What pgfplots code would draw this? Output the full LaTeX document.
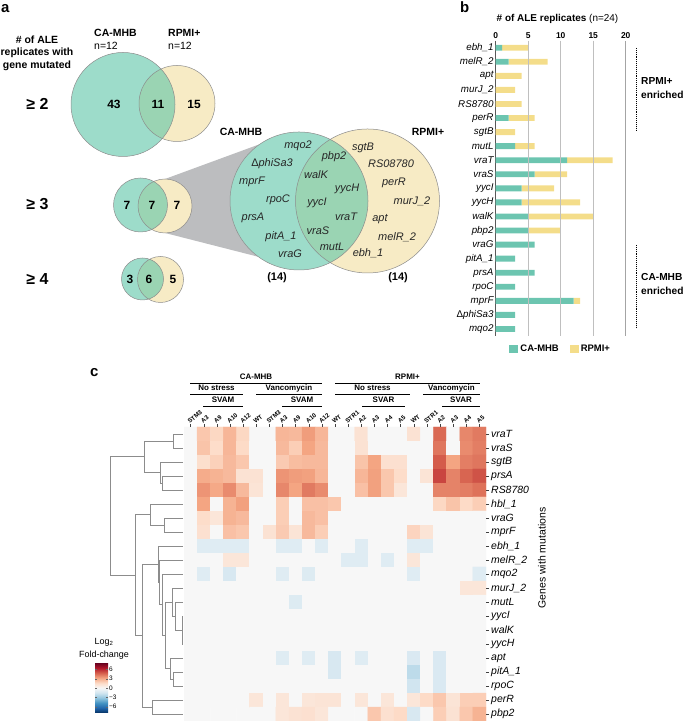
\documentclass[border=0pt]{standalone}
\usepackage{fontspec}
\setmainfont{Liberation Sans}
\usepackage{pgfplots}
\pgfplotsset{compat=1.18}
\pgfplotsset{/pgf/number format/assume math mode=true}
\newcommand\fs[2]{\fontsize{#1}{#2}\selectfont}
\definecolor{tealb}{RGB}{108,197,176}
\definecolor{yelb}{RGB}{244,221,138}
\definecolor{vteal}{RGB}{92,197,167}
\definecolor{vyel}{RGB}{247,235,197}
\definecolor{funnel}{RGB}{188,189,191}
\definecolor{vline}{RGB}{140,140,140}
\pgfplotsset{colormap={rdbu}{rgb255=(5,48,97) rgb255=(33,102,172) rgb255=(67,147,195) rgb255=(146,197,222) rgb255=(209,229,240) rgb255=(247,247,247) rgb255=(253,219,199) rgb255=(244,165,130) rgb255=(214,96,77) rgb255=(178,24,43) rgb255=(103,0,31)}}
\newcommand\venn[6]{%
 \fill[white] (axis cs:#1,#2) circle[radius=#3bp];
 \fill[vyel] (axis cs:#4,#5) circle[radius=#6bp];
 \fill[vteal, fill opacity=0.6] (axis cs:#1,#2) circle[radius=#3bp];
 \draw[vline, line width=0.5bp] (axis cs:#1,#2) circle[radius=#3bp];
 \draw[vline, line width=0.5bp] (axis cs:#4,#5) circle[radius=#6bp];}
\begin{document}
\begin{tikzpicture}[x=1bp,y=1bp]
\useasboundingbox (0,0) rectangle (685,721);
% ---------------- canvas: venn + dendrogram
\begin{axis}[at={(0bp,0bp)}, anchor=south west, scale only axis, width=685bp, height=721bp,
  xmin=0, xmax=685, ymin=0, ymax=721, hide axis, clip=false,
  dendro/.style={draw=black!45, line width=0.6bp, no marks, forget plot}]
\fill[funnel] (axis cs:165,542) -- (axis cs:263,578) -- (axis cs:299,520) -- (axis cs:263,463) -- (axis cs:165,488) -- cycle;
\venn{123}{616.5}{52}{177}{617.5}{38}
\venn{140.5}{516}{27}{165}{515}{27}
\venn{142.5}{442}{21}{160.5}{441.5}{23}
\venn{299}{520}{69}{367.5}{520}{72}
% dendrogram
\addplot[dendro] coordinates {(183,287) (173,287) (173,273) (183,273)};
\addplot[dendro] coordinates {(183,245) (162,245) (162,231) (183,231)};
\addplot[dendro] coordinates {(183,259) (160,259) (160,238) (162,238)};
\addplot[dendro] coordinates {(173,280) (144,280) (144,248.5) (160,248.5)};
\addplot[dendro] coordinates {(183,203) (164,203) (164,189) (183,189)};
\addplot[dendro] coordinates {(183,217) (150,217) (150,196) (164,196)};
\addplot[dendro] coordinates {(183,105) (182.3,105) (182.3,77) (183,77)};
\addplot[dendro] coordinates {(182.3,91) (183,91)};
\addplot[dendro] coordinates {(183,119) (175,119) (175,91) (182.3,91)};
\addplot[dendro] coordinates {(183,133) (172.3,133) (172.3,105) (175,105)};
\addplot[dendro] coordinates {(183,49) (173.3,49) (173.3,35) (183,35)};
\addplot[dendro] coordinates {(183,63) (170,63) (170,42) (173.3,42)};
\addplot[dendro] coordinates {(172.3,119) (165,119) (165,52.5) (170,52.5)};
\addplot[dendro] coordinates {(183,147) (162.3,147) (162.3,85.75) (165,85.75)};
\addplot[dendro] coordinates {(183,161) (159.3,161) (159.3,116.4) (162.3,116.4)};
\addplot[dendro] coordinates {(183,175) (158.3,175) (158.3,138.7) (159.3,138.7)};
\addplot[dendro] coordinates {(183,21) (152,21) (152,7) (183,7)};
\addplot[dendro] coordinates {(158.3,156.85) (142.7,156.85) (142.7,14) (152,14)};
\addplot[dendro] coordinates {(150,206.5) (135.7,206.5) (135.7,85.4) (142.7,85.4)};
\addplot[dendro] coordinates {(144,264.25) (110,264.25) (110,146) (135.7,146)};
\end{axis}
% ---------------- panel a texts
\node[font=\bfseries\fs{15}{15}, anchor=base west, inner sep=0] at (1,708) {a};
\node[font=\bfseries\fs{15}{15}, anchor=base west, inner sep=0] at (460,708) {b};
\node[font=\bfseries\fs{15}{15}, anchor=base west, inner sep=0] at (90,344) {c};
\node[font=\bfseries\fs{10.5}{12.7}, align=center, inner sep=0] at (37,667.7) {\# of ALE\\replicates with\\gene mutated};
\node[font=\bfseries\fs{10.5}{11}, anchor=west, inner sep=0] at (94,688) {CA-MHB};
\node[font=\fs{10.5}{11}, anchor=west, inner sep=0] at (94,675) {n=12};
\node[font=\bfseries\fs{10.5}{11}, anchor=west, inner sep=0] at (168,688) {RPMI+};
\node[font=\fs{10.5}{11}, anchor=west, inner sep=0] at (168,675) {n=12};
\foreach \t/\y in {2/617,3/517,4/442}{\node[font=\bfseries\fs{16}{16}, inner sep=0] at (37.5,\y) {≥ \t};}
\begin{scope}[every node/.style={font=\bfseries\fs{12}{12}, inner sep=0}]
\node at (114,617) {43}; \node at (158,617) {11}; \node at (194,617) {15};
\node at (127,516) {7}; \node at (152,516) {7}; \node at (177,516) {7};
\node at (130,442) {3}; \node at (149,442) {6}; \node at (173,442) {5};
\end{scope}
\node[font=\bfseries\fs{10.5}{11}, inner sep=0] at (241,589) {CA-MHB};
\node[font=\bfseries\fs{10.5}{11}, inner sep=0] at (428,589) {RPMI+};
\node[font=\bfseries\fs{11}{11}, inner sep=0] at (277,443) {(14)};
\node[font=\bfseries\fs{11}{11}, inner sep=0] at (398,443) {(14)};
\begin{scope}[every node/.style={font=\itshape\fs{11}{11}, inner sep=0, text=black!85}]
\node at (298,575) {mqo2}; \node at (272,557) {{\upshape Δ}phiSa3}; \node at (252,539) {mprF};
\node at (278,521) {rpoC}; \node at (253,503) {prsA}; \node at (281,484) {pitA\_1}; \node at (290,467) {vraG};
\node at (334,564) {pbp2}; \node at (316,546) {walK}; \node at (347,532) {yycH}; \node at (317,518) {yycI};
\node at (346,504) {vraT}; \node at (318,490) {vraS}; \node at (332,474) {mutL};
\node at (363,573) {sgtB}; \node at (391,557) {RS08780}; \node at (394,538) {perR}; \node at (412,520) {murJ\_2};
\node at (380,502) {apt}; \node at (397,484) {melR\_2}; \node at (368,468) {ebh\_1};
\end{scope}
% ---------------- panel b
\node[inner sep=0] at (557.5,702) {\bfseries\fs{10}{10}\# of ALE replicates \mdseries(n=24)};
\begin{axis}[at={(495.7bp,385bp)}, anchor=south west, scale only axis, width=130bp, height=295.3bp,
  xbar stacked, bar width=0.42, xmin=0, xmax=20, ymin=-0.5, ymax=20.5, y dir=reverse,
  axis x line*=top, axis y line*=left, x axis line style={draw=none},
  y axis line style={draw=black!65, line width=0.8bp},
  xtick={0,5,10,15,20}, ytick={0,...,20},
  yticklabels={ebh\_1, melR\_2, apt, murJ\_2, RS8780, perR, sgtB, mutL, vraT, vraS, yycI, yycH, walK, pbp2, vraG, pitA\_1, prsA, rpoC, mprF, {\upshape Δ}phiSa3, mqo2},
  major tick length=0pt, tick style={draw=none},
  xticklabel style={font=\bfseries\fs{8.5}{9}, inner sep=1.5bp},
  yticklabel style={font=\itshape\fs{9.8}{10}, inner sep=2bp},
  legend style={at={(0.5,-0.015)}, anchor=north, draw=none, fill=none, legend columns=2,
    font=\bfseries\fs{9.5}{10}, /tikz/every even column/.append style={column sep=9bp}},
  legend image code/.code={\fill[#1] (0bp,-4bp) rectangle (9bp,4bp);}]
\draw[black!25, line width=0.9bp] (axis cs:5,-0.5) -- (axis cs:5,20.5);
\draw[black!25, line width=0.9bp] (axis cs:10,-0.5) -- (axis cs:10,20.5);
\draw[black!25, line width=0.9bp] (axis cs:15,-0.5) -- (axis cs:15,20.5);
\draw[black!55, line width=0.9bp] (axis cs:20,-0.5) -- (axis cs:20,20.5);
\addplot[fill=tealb, draw=none] coordinates {(1,0) (2,1) (0,2) (0,3) (0,4) (2,5) (0,6) (3,7) (11,8) (6,9) (4,10) (4,11) (5,12) (5,13) (6,14) (3,15) (6,16) (3,17) (12,18) (3,19) (3,20)};
\addplot[fill=yelb, draw=none] coordinates {(4,0) (6,1) (4,2) (3,3) (4,4) (4,5) (3,6) (3,7) (7,8) (5,9) (5,10) (9,11) (10,12) (5,13) (0,14) (0,15) (0,16) (0,17) (1,18) (0,19) (0,20)};
\legend{CA-MHB, RPMI+}
\end{axis}
\draw[densely dotted, line width=0.9bp] (636,673) -- (636,591);
\draw[densely dotted, line width=0.9bp] (636,476) -- (636,394);
\node[font=\bfseries\fs{10.2}{14}, align=left, anchor=west, inner sep=0] at (641,633) {RPMI+\\enriched};
\node[font=\bfseries\fs{10.2}{14}, align=left, anchor=west, inner sep=0] at (641,437) {CA-MHB\\enriched};
% ---------------- panel c header
\begin{scope}[every node/.style={font=\bfseries\fs{8}{8}, inner sep=0, anchor=base}]
\draw[line width=0.6bp] (190,338) -- (322,338); \node at (256,341) {CA-MHB};
\draw[line width=0.6bp] (335,338) -- (480,338); \node at (407.5,341) {RPMI+};
\draw[line width=0.6bp] (190,327) -- (243,327); \node at (216.5,330) {No stress};
\draw[line width=0.6bp] (256,327) -- (322,327); \node at (289,330) {Vancomycin};
\draw[line width=0.6bp] (335,327) -- (410,327); \node at (372.5,330) {No stress};
\draw[line width=0.6bp] (423,327) -- (480,327); \node at (451.5,330) {Vancomycin};
\draw[line width=0.6bp] (203,315) -- (243,315); \node at (223,318) {SVAM};
\draw[line width=0.6bp] (282,315) -- (322,315); \node at (302,318) {SVAM};
\draw[line width=0.6bp] (362,315) -- (405,315); \node at (383.5,318) {SVAR};
\draw[line width=0.6bp] (442,315) -- (480,315); \node at (461,318) {SVAR};
\end{scope}
% ---------------- heatmap
\begin{axis}[at={(184bp,0bp)}, anchor=south west, scale only axis, width=302bp, height=294bp,
  xmin=-0.5, xmax=22.5, ymin=-0.5, ymax=20.5, y dir=reverse,
  colormap name=rdbu, point meta min=-8, point meta max=8,
  axis line style={draw=none},
  xtick={0,...,22}, ytick={0,...,20},
  xtick pos=right, xticklabel pos=right, ytick pos=right, yticklabel pos=right,
  tick align=outside, major tick length=3bp, tick style={black!75, line width=0.4bp},
  xticklabels={STM3,A3,A9,A10,A12,WT,STM3,A3,A9,A10,A12,WT,STR1,A2,A3,A4,A5,WT,STR1,A2,A3,A4,A5},
  xticklabel style={font=\bfseries\fs{6.2}{6.5}, rotate=40, anchor=south west, inner sep=0.3bp, xshift=-0.8bp},
  yticklabels={vraT, vraS, sgtB, prsA, RS8780, hbl\_1, vraG, mprF, ebh\_1, melR\_2, mqo2, murJ\_2, mutL, yycI, walK, yycH, apt, pitA\_1, rpoC, perR, pbp2},
  yticklabel style={font=\itshape\fs{10.5}{11}, inner sep=2bp}]
\addplot[matrix plot, mesh/cols=23, mesh/rows=21, point meta=explicit, draw=none]
 table[row sep=\\, x expr={mod(\coordindex,23)}, y expr={floor((\coordindex+0.5)/23)}, meta=v] {
v\\
0\\2.2\\1.7\\2.7\\1.7\\0\\0\\2.7\\2.6\\3.4\\2.7\\0\\0\\1.2\\0\\0\\0\\1.2\\0\\4.6\\0\\3.9\\4.2\\
0\\2.3\\1.5\\2.7\\1.6\\0\\0\\2.6\\2.0\\3.2\\2.6\\0\\0\\1.2\\0\\0\\0\\0\\0\\4.3\\0\\3.8\\4.1\\
0\\1.4\\1.9\\2.6\\2.2\\0\\0\\2.1\\2.5\\2.6\\2.6\\0\\0\\2.3\\3.2\\1.3\\1.3\\0\\0\\4.9\\3.2\\4.1\\4.3\\
0\\3.0\\2.8\\2.6\\1.2\\1.2\\0\\3.6\\3.4\\3.3\\2.7\\0\\0\\2.7\\3.3\\2.2\\1.5\\0\\1.1\\5.4\\4.0\\4.7\\5.1\\
0\\3.6\\3.1\\3.8\\2.6\\1.1\\0\\3.9\\3.2\\4.2\\3.8\\0\\0\\2.4\\3.3\\2.2\\1.0\\0\\0\\4.0\\4.0\\4.1\\4.4\\
0\\3.2\\0\\2.8\\3.3\\0\\0\\2.0\\0\\2.4\\2.4\\2.2\\0\\0\\0\\0\\0\\0\\0\\1.7\\2.3\\1.6\\2.0\\
0\\1.5\\1.0\\2.8\\2.6\\0\\0\\2.0\\0\\2.6\\2.4\\0\\0\\0\\0\\0\\0\\0\\0\\0\\0\\0\\0\\
0\\1.3\\0\\2.4\\2.2\\0\\1.2\\2.1\\1.1\\2.6\\2.0\\0\\0\\0\\0\\0\\0\\1.8\\1.1\\0\\0\\0\\0\\
0\\-1\\-1\\-1\\-1\\0\\0\\-1\\-1\\0\\-1\\0\\0\\-1\\0\\0\\0\\-1\\-1\\0\\0\\0\\0\\
0\\0\\0\\1.0\\1.0\\0\\0\\0\\0\\0\\0\\0\\-1\\-1\\0\\-1\\0\\1.0\\0\\0\\0\\0\\0\\
0\\-1\\0\\-1.3\\0\\0\\0\\-1\\0\\-1.1\\0\\0\\0\\0\\0\\0\\0\\-1\\0\\0\\0\\0\\-1\\
0\\0\\0\\0\\0\\0\\0\\0\\0\\0\\0\\0\\0\\0\\0\\0\\0\\0\\0\\0\\0\\1.0\\1.0\\
0\\0\\0\\0\\0\\0\\0\\0\\-1.1\\0\\0\\0\\0\\0\\0\\0\\0\\0\\0\\0\\0\\0\\0\\
0\\0\\0\\0\\0\\0\\0\\0\\0\\0\\0\\0\\0\\0\\0\\0\\0\\0\\0\\0\\0\\0\\0\\
0\\0\\0\\0\\0\\0\\0\\0\\0\\0\\0\\0\\0\\0\\0\\0\\0\\0\\0\\0\\0\\0\\0\\
0\\0\\0\\0\\0\\0\\0\\0\\0\\0\\0\\0\\0\\0\\0\\0\\0\\0\\0\\0\\0\\0\\0\\
0\\0\\0\\0\\0\\0\\0\\-1\\0\\-1\\0\\-1.3\\0\\-1\\0\\0\\0\\-1.2\\0\\-1.2\\0\\0\\0\\
0\\0\\0\\0\\0\\0\\0\\0\\0\\0\\0\\-1.3\\0\\0\\0\\0\\0\\-2.1\\0\\-1.2\\0\\0\\0\\
0\\0\\0\\0\\0\\0\\0\\0\\0\\0\\0\\0\\0\\0\\0\\0\\0\\-1.6\\0\\-1.2\\0\\0\\0\\
0\\0\\0\\0\\0\\1.0\\0\\1.0\\0\\1.0\\1.1\\1.1\\0\\1.0\\0\\1.0\\0\\1.0\\1.6\\2.2\\1.1\\2.0\\2.0\\
0\\0\\0\\0\\0\\0\\0\\1.0\\1.2\\1.3\\1.0\\0\\0\\0\\2.2\\1.3\\1.6\\-1.3\\0\\2.0\\1.2\\2.2\\2.8\\
};
\end{axis}
\node[font=\fs{10.5}{11}, rotate=90, inner sep=0] at (542,163) {Genes with mutations};
% ---------------- colour bar
\node[font=\fs{9}{9}, inner sep=0] at (104,79) {Log\textsubscript{2}};
\node[font=\fs{9}{9}, inner sep=0] at (104,66) {Fold-change};
\begin{axis}[at={(95bp,58bp)}, anchor=north west, scale only axis, width=1bp, height=1bp, hide axis,
  xmin=0, xmax=1, ymin=0, ymax=1, colormap name=rdbu, point meta min=-8, point meta max=8,
  colorbar, colorbar shift/.style={},
  colorbar style={at={(parent axis.north west)}, anchor=north west, xshift=0pt, width=13bp, height=50bp,
    ytick={-6,-3,0,3,6}, yticklabels={−6,−3,0,3,6}, yticklabel style={font=\fs{6.5}{7}, inner sep=1bp},
    major tick length=2bp, tick style={black!60}, axis line style={draw=none}}]
\addplot[draw=none] coordinates {(0,0)};
\end{axis}
\end{tikzpicture}
\end{document}
